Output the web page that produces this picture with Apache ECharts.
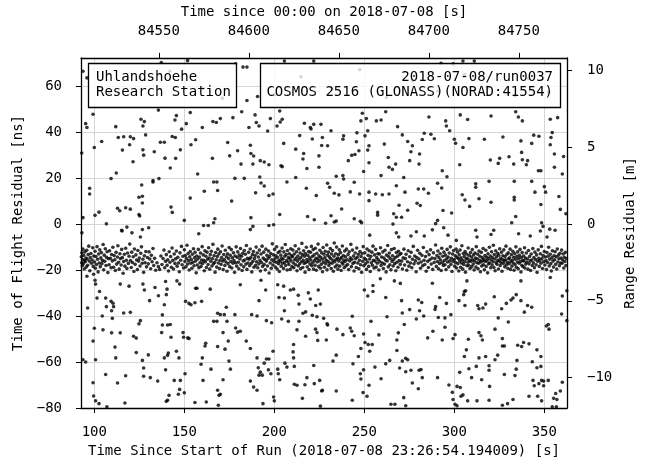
<!DOCTYPE html>
<html>
<head>
<meta charset="utf-8">
<script src="https://cdn.jsdelivr.net/npm/echarts@6/dist/echarts.min.js"></script>
<style>
  html, body { margin: 0; padding: 0; background: #fff; }
  #chart { width: 646px; height: 464px; }
</style>
</head>
<body>
<div id="chart"></div>
<script>
// axis extents
const X_MIN = 92.6, X_MAX = 362.6;
const Y_MIN = -80, Y_MAX = 72.3;
const T0 = 84414.194009;            // 23:26:54.194009 in seconds since 00:00
const NS_TO_M = 0.299792458 / 2;    // two-way time of flight -> range

const X_TICKS = [100, 150, 200, 250, 300, 350];
const TOP_TICKS = [84550, 84600, 84650, 84700, 84750];
const Y_TICKS = [-80, -60, -40, -20, 0, 20, 40, 60];
const M_TICKS = [-10, -5, 0, 5, 10];

// noise above the return band [s, ns]
const noiseUpper = [
[93.7,66.5],[95.9,63.6],[137.2,70.3],[151.8,71.1],[178.5,69.7],[182.6,68.3],[184.8,68.3],[205.6,70.9],[221.9,70.9],[184.8,53.8],[190.7,55.5],[99.3,47.8],[125.9,45.6],[127.8,44.6],[95.2,43.7],[95.9,42.0],[111.9,42.4],[127.0,42.7],[135.6,49.6],[145.6,47.2],[144.8,45.3],[148.5,41.3],[151.1,43.7],[153.3,48.5],[160.0,42.0],[165.9,44.6],[167.8,44.2],[170.0,45.9],[177.0,46.3],[181.9,48.9],[189.3,47.5],[190.0,44.2],[191.5,42.7],[185.9,42.0],[197.8,45.9],[196.3,40.5],[201.5,42.7],[203.3,44.4],[204.4,45.6],[203.0,49.2],[216.7,43.9],[220.0,42.0],[220.4,41.4],[221.9,43.4],[225.9,43.4],
[113.3,37.7],[116.3,38.0],[120.0,38.0],[121.8,37.2],[128.5,38.8],[143.3,38.1],[145.0,37.7],[136.7,35.6],[138.9,35.6],[104.1,35.9],[100.0,33.3],[119.6,34.5],[115.6,32.2],[127.0,32.3],[127.4,30.0],[133.3,31.5],[147.8,32.3],[139.3,28.7],[145.2,28.6],[121.5,27.1],[142.2,24.4],[93.0,30.9],[153.7,34.5],[156.3,36.7],[174.1,35.5],[179.6,31.9],[175.2,29.7],[186.7,34.3],[187.0,30.7],[188.5,29.6],[188.1,26.1],[192.2,27.6],[194.4,27.0],[197.0,25.8],[181.5,26.1],[165.6,28.6],[203.7,25.4],[204.4,25.0],[205.2,35.1],[214.1,38.5],[211.9,32.6],[216.3,30.7],[215.9,28.3],[218.1,24.2],[221.1,37.0],[224.8,29.7],[226.3,34.2],[224.8,24.7],[226.7,37.7],
[112.2,22.2],[109.3,19.8],[157.4,21.8],[132.6,18.9],[132.6,18.3],[135.9,19.8],[126.3,17.0],[166.3,18.3],[168.1,18.3],[178.1,19.9],[183.3,19.9],[191.9,20.5],[192.6,17.9],[194.4,16.6],[207.0,18.3],[211.9,20.3],[97.4,15.6],[97.4,13.1],[161.1,14.3],[168.5,14.6],[189.6,13.6],[197.0,12.4],[199.3,13.1],[217.8,15.6],[223.3,12.4],[126.7,12.1],[124.8,11.7],[126.7,9.2],[153.3,11.3],[176.3,10.0],[112.9,6.9],[114.1,5.8],[117.4,7.1],[120.0,6.5],[142.6,7.4],[143.3,5.1],[124.8,4.2],[125.2,3.5],[100.4,3.8],[102.6,5.2],[93.7,2.8],[150.0,1.6],[160.7,-0.6],[163.3,-0.6],[166.3,0.6],[167.0,2.3],[187.0,2.8],[188.1,-1.0],[197.0,-0.6],[199.6,-0.3],[203.0,4.2],[218.5,3.3],[222.2,1.9],[115.2,-2.7],[126.7,-2.4],[186.7,-2.4],
[292.6,70.0],[299.3,69.7],[304.8,70.9],[311.1,70.9],[248.9,48.2],[248.1,44.9],[251.1,45.9],[256.7,44.9],[259.3,45.3],[261.9,48.9],[268.5,42.4],[285.9,46.6],[295.2,44.9],[295.6,42.7],[297.4,40.6],[303.3,47.5],[307.4,45.5],[320.4,47.0],[334.1,48.9],[335.6,46.6],[337.8,44.9],[353.3,45.6],[357.4,46.3],[231.5,40.6],[229.6,34.1],[238.5,38.4],[238.1,36.9],[245.9,39.7],[245.6,35.8],[250.4,38.4],[251.9,40.6],[252.6,34.1],[251.9,32.2],[261.1,34.8],[271.1,38.8],[274.1,35.9],[276.7,34.1],[275.9,31.5],[280.7,30.5],[283.3,39.5],[287.0,39.1],[288.9,37.1],[282.2,36.8],[300.0,36.9],[300.7,35.2],[304.8,33.3],[308.1,37.2],[316.7,36.9],[327.0,37.9],[337.0,36.2],[343.0,35.1],[344.1,38.7],[347.0,38.2],[353.7,37.7],[354.4,39.8],[353.3,34.5],
[244.8,30.3],[243.0,29.9],[247.0,31.9],[241.1,27.6],[252.6,26.7],[249.6,22.9],[263.3,29.0],[263.7,24.7],[265.6,23.8],[267.4,26.1],[275.2,27.6],[280.4,26.1],[293.3,23.2],[303.0,25.8],[320.0,27.9],[324.4,26.4],[325.2,28.6],[330.4,29.3],[333.0,26.1],[337.4,31.2],[337.8,28.0],[340.0,25.8],[340.7,27.6],[346.7,23.2],[348.1,23.2],[355.6,30.5],[360.7,29.4],[355.6,24.7],[360.0,21.8],[234.4,20.8],[238.1,21.1],[238.5,19.6],[244.4,18.2],[229.6,17.8],[230.7,16.0],[233.3,13.4],[235.9,12.7],[242.2,14.0],[247.4,13.1],[252.6,13.9],[252.6,10.2],[256.3,13.1],[260.0,12.8],[263.7,13.1],[259.3,21.1],[267.8,16.7],[272.6,13.9],[271.9,20.3],[280.0,15.3],[283.0,15.3],[285.6,13.4],[290.7,17.8],[293.0,15.7],[295.9,20.6],[304.4,12.8],[305.9,10.5],[308.5,7.7],[311.9,17.5],[311.9,16.0],[313.7,11.0],[320.4,9.5],[319.3,18.6],[333.3,11.7],[333.3,10.5],[333.3,18.6],[343.0,18.6],[344.8,13.9],[350.0,16.3],[350.7,13.9],[358.1,12.0],[348.1,8.5],[358.9,6.4],
[269.3,8.2],[274.1,6.0],[257.4,5.1],[257.4,3.9],[266.3,4.5],[267.8,3.0],[270.7,3.0],[279.3,9.1],[281.1,8.1],[293.7,5.9],[298.5,4.8],[237.4,6.6],[231.5,3.6],[244.4,2.3],[247.8,1.2],[248.5,0.6],[228.5,0.4],[233.3,0.9],[234.4,1.3],[290.7,1.6],[289.6,0.2],[287.8,-2.5],[265.9,0.0],[311.9,-2.7],[331.9,0.6],[348.5,0.6],[349.3,-1.0],[353.0,-2.2],[356.0,-2.7],[362.0,4.5],[334.1,3.3],
[93.1,-3.8],[106.7,0.1],[115.4,-3.0],[118.1,-1.3],[120.9,-3.8],[125.6,-5.6],[158.0,-4.2],[130.2,-1.6],[253.0,-4.8],[267.8,-3.8],[269.1,-5.6],[275.9,-5.2],[278.9,-3.3],[283.3,-5.2],[294.1,-1.6],[296.5,-4.8],[301.1,-7.1],[312.6,-5.6],[320.4,-4.5],[321.9,-2.7],[335.7,-4.2],[342.2,-5.2],[347.8,-3.0],[351.5,-5.6],
[108.5,57.2],[125.3,63.8],[142.0,66.5],[160.4,59.0],[171.2,54.8],[200.5,56.3],[214.8,64.1],[232.0,58.7],[247.5,67.2],[262.3,55.1],[276.9,62.4],[291.0,57.8],[305.6,65.0],[318.4,59.6],[333.7,55.9],[341.2,63.3],[352.5,57.4]
];

// noise below the return band [s, ns]
const noiseLower = [
[95.9,-22.7],[99.6,-21.8],[100.4,-24.4],[100.7,-26.1],[102.9,-29.3],[101.5,-32.2],[106.3,-32.2],[106.7,-35.9],[109.3,-33.6],[110.4,-34.4],[109.6,-37.7],[110.7,-35.9],[96.3,-36.5],[104.4,-40.0],[110.0,-41.0],[116.3,-38.7],[120.0,-38.4],[114.4,-26.1],[119.3,-27.0],[127.0,-26.1],[127.8,-28.7],[133.7,-27.6],[130.7,-33.3],[135.6,-31.2],[139.6,-25.0],[140.4,-28.3],[140.0,-30.7],[138.9,-35.1],[145.9,-24.7],[147.4,-26.1],[137.8,-39.5],[125.6,-42.0],[124.8,-43.4],[100.0,-45.3],[104.8,-46.0],[109.6,-47.3],[114.4,-47.3],[137.8,-43.9],[137.4,-47.2],[140.7,-43.9],[142.2,-43.7],[142.6,-49.2],[121.8,-48.8],[123.3,-49.6],[99.3,-50.9],[111.5,-53.5],[123.3,-55.9],[111.9,-58.2],[130.0,-56.9],[141.1,-56.1],[140.7,-57.1],[145.6,-55.3],[138.9,-58.2],[147.0,-58.2],[126.7,-59.3],[93.7,-59.0],[95.2,-60.0],[100.7,-59.0],[149.3,-47.2],[149.6,-49.2],[151.9,-49.5],[152.6,-49.8],[150.7,-33.6],[152.6,-34.5],[153.7,-35.1],[155.9,-34.2],[156.3,-27.9],[157.0,-27.9],[159.6,-33.6],[164.4,-28.3],
[181.1,-26.4],[192.6,-24.4],[195.2,-28.7],[191.5,-33.3],[173.3,-36.2],[168.5,-38.8],[170.0,-39.4],[172.2,-39.4],[166.3,-42.3],[168.1,-42.3],[173.7,-42.3],[178.1,-39.4],[187.4,-39.4],[190.4,-40.0],[195.6,-42.0],[198.5,-42.9],[171.5,-47.2],[178.5,-45.2],[179.6,-47.0],[181.1,-46.6],[174.4,-50.9],[161.9,-51.8],[161.5,-53.0],[168.5,-53.3],[172.6,-54.4],[184.4,-50.9],[186.7,-54.1],[199.3,-55.3],[160.0,-58.2],[159.3,-61.0],[174.8,-59.6],[175.6,-63.1],[164.8,-63.1],[190.4,-58.2],[195.6,-58.7],[197.0,-58.7],[194.4,-60.5],[191.1,-62.5],[192.2,-64.4],[191.5,-65.7],[193.3,-65.7],[196.7,-63.4],[198.1,-65.1],[201.9,-63.1],[202.2,-65.1],[203.0,-67.7],[186.7,-68.3],[188.5,-70.9],[190.4,-72.3],[171.5,-67.7],[160.4,-68.0],[150.4,-65.1],[127.4,-62.6],[127.4,-66.2],[131.1,-66.8],[135.2,-68.3],[139.6,-63.4],[144.4,-68.0],[147.8,-68.0],[147.4,-71.9],[146.7,-74.0],[150.0,-73.4],[117.4,-66.0],[112.9,-69.1],[106.3,-65.4],[99.3,-69.0],[99.6,-74.8],[100.7,-76.9],[102.6,-78.1],[107.0,-79.5],[141.5,-74.5],[140.7,-76.6],[140.0,-77.1],[117.0,-77.8],[155.9,-77.6],[162.2,-77.4],[168.5,-72.3],[169.3,-74.5],[170.0,-74.0],[168.9,-78.8],[193.7,-78.1],[199.6,-75.2],[200.0,-76.9],
[201.9,-26.4],[205.2,-27.0],[202.6,-31.9],[205.6,-32.2],[208.9,-28.7],[210.7,-28.3],[213.3,-31.0],[218.9,-29.9],[220.0,-32.6],[224.4,-28.7],[213.7,-34.8],[223.0,-35.4],[225.6,-34.8],[205.6,-37.7],[215.9,-38.8],[217.4,-38.2],[221.1,-39.7],[223.7,-40.3],[204.1,-41.3],[207.8,-42.3],[213.7,-42.3],[222.9,-45.7],[223.7,-47.2],[224.1,-50.6],[212.6,-46.0],[217.4,-48.8],[210.7,-52.4],[210.4,-55.6],[210.7,-58.2],[205.9,-60.5],[207.0,-62.2],[211.1,-61.9],[221.9,-61.5],[218.1,-66.8],[225.2,-68.0],[211.1,-69.7],[212.6,-70.1],[217.0,-69.9],[222.2,-69.4],[226.3,-72.6],[215.6,-75.8],[225.6,-79.2],
[250.0,-28.7],[251.9,-31.3],[254.8,-26.7],[254.8,-29.3],[258.9,-23.8],[266.7,-24.7],[270.0,-25.8],[261.9,-31.9],[270.7,-33.3],[271.1,-38.7],[275.2,-37.2],[280.0,-33.0],[281.9,-34.1],[280.7,-37.7],[278.9,-41.3],[287.8,-25.7],[291.9,-31.9],[289.6,-35.9],[289.3,-37.1],[295.6,-34.5],[283.0,-40.0],[291.1,-40.6],[294.8,-40.8],[298.1,-39.4],[302.6,-33.3],[305.2,-30.7],[306.3,-29.0],[305.6,-29.3],[305.9,-35.4],[313.0,-35.4],[313.7,-36.8],[315.9,-36.5],[317.4,-34.8],[322.2,-31.6],[326.3,-36.8],[328.9,-34.5],[331.5,-33.0],[332.6,-32.2],[334.4,-30.7],[337.0,-24.7],[337.0,-33.3],[340.7,-35.4],[343.0,-36.2],[338.9,-38.3],[324.4,-40.8],[330.0,-42.6],[360.0,-31.3],[362.5,-29.0],[359.6,-39.1],[362.5,-42.0],[352.2,-43.7],[352.6,-45.7],[351.1,-44.3],[227.4,-41.0],[229.6,-43.9],[229.3,-43.4],[243.3,-40.1],[253.7,-42.3],[262.6,-40.3],[234.8,-45.7],[238.1,-48.1],[242.2,-45.2],[243.0,-46.6],[244.4,-48.6],[228.9,-50.4],[249.6,-47.8],[258.1,-48.2],[268.9,-47.3],[268.1,-50.4],[272.2,-43.7],[288.1,-46.6],[285.2,-49.5],[293.3,-50.4],[294.8,-44.9],[299.3,-49.8],[300.4,-48.1],[313.7,-47.2],[314.8,-48.6],[315.6,-50.4],[307.8,-50.1],[322.6,-45.7],[326.7,-49.8],
[250.4,-51.5],[252.2,-52.4],[254.4,-52.4],[248.1,-54.1],[253.0,-55.3],[268.1,-55.0],[273.0,-58.4],[274.1,-59.0],[271.1,-59.6],[234.4,-57.0],[232.6,-59.6],[246.7,-57.6],[243.7,-60.8],[264.1,-59.3],[261.9,-60.8],[249.6,-63.4],[247.8,-65.1],[248.1,-67.4],[255.9,-62.2],[269.6,-62.6],[273.0,-64.2],[275.9,-63.6],[280.4,-63.6],[281.5,-63.3],[282.2,-66.8],[259.3,-67.3],[276.7,-69.1],[280.0,-71.6],[290.7,-66.8],[252.6,-70.1],[234.4,-72.6],[249.3,-73.3],[251.5,-74.9],[303.0,-64.5],[308.1,-62.9],[312.2,-61.9],[319.3,-61.6],[319.3,-63.6],[315.2,-67.7],[309.6,-66.8],[305.6,-57.6],[306.7,-54.7],[313.7,-58.2],[317.4,-57.6],[322.6,-59.0],[324.1,-57.0],[326.7,-53.0],[327.8,-53.0],[335.2,-52.7],[337.4,-53.3],[338.5,-51.5],[341.5,-52.1],[345.9,-54.7],[348.1,-57.6],[334.8,-59.3],[343.3,-59.9],[345.9,-62.5],[348.1,-61.9],[334.4,-63.1],[333.7,-65.9],[327.8,-65.4],[319.6,-70.6],[297.0,-70.0],[298.9,-73.2],[301.5,-70.6],[303.3,-71.1],[303.7,-74.9],[304.8,-74.3],[299.3,-76.3],[300.4,-78.4],[301.5,-79.0],[307.4,-76.9],[312.6,-76.9],[319.3,-76.6],[326.7,-78.8],[329.6,-78.1],[332.6,-76.3],[341.5,-74.9],[346.3,-74.9],[348.5,-76.9],[343.7,-68.0],[344.4,-70.3],[347.0,-69.4],[348.5,-68.0],[349.6,-68.3],[349.6,-70.3],[352.2,-68.0],[360.0,-68.8],[358.9,-72.6],[356.3,-73.7],[355.2,-75.8],[357.0,-76.3],[354.4,-79.5],[356.7,-79.5],[243.3,-76.6],[264.8,-78.4],[267.0,-78.4],[273.0,-79.0],[271.9,-75.5],[226.7,-72.3],[307.0,-24.7],[353.3,-23.2]
];

// satellite returns [s, ns]
const band = [
[92.8,-14.2],[93.0,-16.8],[93.1,-12.5],[93.3,-18.1],[93.5,-15.4],[93.7,-10.9],[93.9,-17.3],[94.1,-13.6],[94.4,-19.5],[94.6,-15.9],[94.8,-12.1],[95.0,-16.4],[95.3,-14.8],[95.5,-18.7],[95.8,-11.4],[96.0,-15.2],[96.3,-17.9],[96.6,-13.3],[96.9,-9.6],[97.2,-16.1],[97.5,-20.3],[97.8,-14.5],[98.1,-12.8],[98.4,-17.0],[98.8,-15.6],[99.1,-10.3],[99.4,-18.4],[99.7,-13.9],
[100.1,-16.5],[100.4,-11.8],[100.6,-19.2],[100.9,-14.1],[101.2,-17.6],[101.5,-9.8],[101.8,-15.3],[102.1,-20.8],[102.4,-13.0],[102.7,-16.9],[103.0,-11.2],[103.3,-18.5],[103.6,-14.7],[103.9,-12.4],[104.2,-17.2],[104.5,-15.8],[104.9,-8.9],[105.2,-19.9],[105.5,-13.5],[105.8,-16.2],[106.1,-10.7],[106.5,-18.0],[106.8,-14.4],[107.1,-12.0],[107.5,-21.1],[107.8,-15.1],[108.2,-17.7],[108.5,-11.6],[108.9,-14.9],[109.3,-19.0],[109.6,-13.2],
[110.0,-16.0],[110.3,-10.1],[110.7,-18.8],[111.0,-13.7],[111.4,-15.5],[111.7,-20.2],[112.1,-12.3],[112.4,-17.4],[112.8,-14.3],[113.1,-9.4],[113.5,-16.6],[113.8,-19.6],[114.2,-12.9],[114.5,-15.0],[114.9,-17.8],[115.2,-11.0],[115.6,-14.6],[116.0,-21.4],[116.3,-16.3],[116.7,-13.1],[117.0,-18.3],[117.4,-10.5],[117.8,-15.7],[118.1,-19.3],[118.5,-12.6],[118.9,-17.1],[119.3,-14.0],[119.7,-8.7],
[120.1,-15.9],[120.5,-18.9],[120.8,-12.2],[121.2,-16.7],[121.6,-14.2],[122.0,-20.6],[122.3,-10.8],[122.7,-17.5],[123.1,-13.4],[123.5,-15.6],[123.9,-19.8],[124.2,-11.5],[124.6,-16.1],[125.0,-14.8],[125.4,-18.2],[125.8,-12.7],[126.2,-9.9],[126.6,-17.0],[127.0,-15.3],[127.4,-21.0],[127.8,-13.8],[128.2,-16.8],[128.6,-11.9],[129.0,-18.6],[129.5,-14.5],
[130.0,-17.3],[130.4,-12.1],[130.8,-15.2],[131.3,-19.4],[131.7,-13.6],[132.1,-16.4],[132.6,-10.6],[133.0,-18.0],[133.5,-14.9],[134.1,-20.1],[134.8,-16.8],[135.6,-18.5],[136.3,-19.7],[137.0,-13.9],[137.6,-17.6],[138.2,-15.0],[138.7,-11.3],[139.1,-19.0],[139.6,-16.2],
[140.0,-13.3],[140.4,-17.9],[140.8,-15.5],[141.2,-20.4],[141.6,-12.0],[142.0,-16.6],[142.4,-14.1],[142.8,-18.8],[143.2,-10.4],[143.6,-15.8],[144.0,-19.5],[144.4,-13.0],[144.8,-17.1],[145.2,-15.1],[145.6,-11.7],[146.0,-18.3],[146.4,-14.4],[146.8,-16.9],[147.2,-20.7],[147.6,-12.5],[148.0,-15.7],[148.4,-9.7],[148.8,-17.7],[149.2,-14.0],[149.6,-19.1],
[150.0,-11.2],[150.3,-16.3],[150.6,-13.7],[150.9,-18.6],[151.2,-15.0],[151.5,-9.2],[151.8,-17.4],[152.1,-12.8],[152.4,-15.9],[152.7,-20.0],[153.0,-14.2],[153.3,-11.9],[153.6,-17.0],[153.9,-15.4],[154.2,-19.2],[154.5,-13.1],[154.8,-16.6],[155.1,-10.7],[155.4,-18.1],[155.7,-14.6],[156.0,-12.3],[156.3,-16.0],[156.6,-21.2],[156.9,-13.9],[157.2,-17.8],[157.5,-15.2],[157.8,-11.0],[158.1,-19.0],[158.4,-14.3],[158.7,-16.8],[159.0,-12.6],[159.3,-18.4],[159.6,-15.6],[159.9,-9.8],
[160.2,-17.1],[160.5,-13.4],[160.8,-15.8],[161.1,-20.3],[161.4,-11.6],[161.7,-16.4],[162.0,-14.0],[162.3,-18.9],[162.6,-12.2],[162.9,-15.3],[163.2,-17.6],[163.5,-10.3],[163.8,-14.8],[164.1,-19.6],[164.4,-13.3],[164.7,-16.2],[165.0,-11.8],[165.3,-18.2],[165.6,-15.1],[165.9,-8.8],[166.2,-17.3],[166.5,-13.8],[166.8,-16.7],[167.1,-20.9],[167.4,-12.4],[167.7,-15.5],[168.0,-18.7],[168.3,-14.1],[168.6,-10.9],[168.9,-16.9],[169.2,-13.0],[169.5,-19.3],[169.8,-15.7],
[170.1,-12.0],[170.4,-17.5],[170.7,-14.5],[171.0,-9.5],[171.3,-16.1],[171.6,-19.8],[171.9,-13.2],[172.2,-15.4],[172.5,-18.0],[172.8,-11.4],[173.1,-16.5],[173.4,-14.2],[173.7,-20.5],[174.0,-12.9],[174.3,-17.2],[174.6,-15.0],[174.9,-10.2],[175.2,-18.5],[175.5,-13.6],[175.8,-16.3],[176.1,-11.1],[176.4,-19.1],[176.7,-14.7],[177.0,-17.0],[177.3,-12.5],[177.6,-15.9],[177.9,-21.0],[178.2,-13.9],[178.5,-16.8],[178.8,-9.9],[179.1,-18.3],[179.4,-14.4],[179.7,-12.1],
[180.0,-16.6],[180.3,-19.4],[180.6,-13.5],[180.9,-15.2],[181.2,-10.6],[181.5,-17.7],[181.8,-14.0],[182.1,-20.2],[182.4,-12.7],[182.7,-16.0],[183.0,-18.6],[183.3,-11.5],[183.6,-15.6],[183.9,-13.1],[184.2,-17.4],[184.5,-9.3],[184.8,-19.7],[185.1,-14.9],[185.4,-16.9],[185.7,-12.3],[186.0,-15.3],[186.3,-18.1],[186.6,-10.8],[186.9,-14.6],[187.2,-17.1],[187.5,-20.8],[187.8,-13.3],[188.1,-16.2],[188.4,-11.9],[188.7,-18.8],[189.0,-15.0],[189.3,-13.7],[189.6,-17.9],[189.9,-10.0],
[190.2,-16.4],[190.5,-12.6],[190.8,-19.0],[191.1,-14.3],[191.4,-17.3],[191.7,-11.3],[192.0,-15.8],[192.3,-20.4],[192.6,-13.0],[192.9,-16.7],[193.2,-9.6],[193.5,-18.4],[193.8,-14.8],[194.1,-12.2],[194.4,-17.6],[194.7,-15.4],[195.0,-19.9],[195.3,-10.9],[195.6,-16.1],[195.9,-13.6],[196.2,-18.2],[196.5,-15.0],[196.8,-11.7],[197.1,-21.3],[197.4,-14.1],[197.7,-16.9],[198.0,-12.8],[198.3,-19.2],[198.6,-15.5],[198.9,-8.6],[199.2,-17.8],[199.5,-13.4],[199.8,-16.3],
[200.1,-11.0],[200.3,-15.1],[200.6,-18.7],[200.8,-13.8],[201.1,-16.6],[201.3,-9.9],[201.6,-19.5],[201.8,-14.4],[202.1,-12.4],[202.3,-17.2],[202.6,-15.7],[202.8,-20.6],[203.1,-11.8],[203.3,-16.2],[203.6,-13.5],[203.8,-18.3],[204.1,-14.9],[204.3,-10.4],[204.6,-17.0],[204.8,-15.3],[205.1,-19.3],[205.3,-12.1],[205.6,-16.8],[205.8,-14.0],[206.1,-8.9],[206.3,-18.0],[206.6,-13.2],[206.8,-15.9],[207.1,-20.0],[207.3,-11.5],[207.6,-16.5],[207.8,-14.6],[208.1,-17.6],[208.3,-12.9],[208.6,-15.0],[208.8,-19.7],[209.1,-10.7],[209.3,-16.0],[209.6,-13.7],[209.8,-18.5],
[210.1,-14.2],[210.3,-11.3],[210.6,-16.9],[210.8,-19.0],[211.1,-13.0],[211.3,-15.5],[211.6,-9.4],[211.8,-17.7],[212.1,-14.8],[212.3,-12.0],[212.6,-20.3],[212.8,-16.1],[213.1,-13.9],[213.3,-18.2],[213.6,-10.8],[213.8,-15.2],[214.1,-17.3],[214.3,-12.6],[214.6,-19.4],[214.8,-14.5],[215.1,-16.4],[215.3,-8.4],[215.6,-13.3],[215.8,-18.9],[216.1,-15.8],[216.3,-11.6],[216.6,-17.1],[216.8,-14.0],[217.1,-20.9],[217.3,-12.8],[217.6,-16.7],[217.8,-10.1],[218.1,-15.4],[218.3,-18.6],[218.6,-13.6],[218.8,-16.3],[219.1,-11.9],[219.3,-19.8],[219.6,-14.7],[219.8,-17.4],
[220.1,-12.3],[220.3,-15.6],[220.6,-9.7],[220.8,-18.1],[221.1,-14.1],[221.3,-16.8],[221.6,-11.1],[221.8,-19.6],[222.1,-13.4],[222.3,-15.9],[222.6,-17.9],[222.8,-10.5],[223.1,-14.9],[223.3,-20.1],[223.6,-12.7],[223.8,-16.5],[224.1,-15.1],[224.3,-8.7],[224.6,-18.4],[224.8,-13.8],[225.1,-16.0],[225.3,-11.4],[225.6,-19.2],[225.8,-14.4],[226.1,-17.5],[226.3,-12.5],[226.6,-15.3],[226.8,-20.7],[227.1,-10.2],[227.3,-16.6],[227.6,-13.1],[227.8,-18.8],[228.1,-14.6],[228.3,-11.8],[228.6,-17.2],[228.8,-15.7],[229.1,-9.1],[229.3,-19.9],[229.6,-13.5],[229.8,-16.2],
[230.1,-12.2],[230.3,-18.0],[230.6,-14.3],[230.8,-16.9],[231.1,-10.6],[231.3,-15.0],[231.6,-19.3],[231.8,-13.0],[232.1,-17.0],[232.3,-11.5],[232.6,-15.8],[232.8,-20.5],[233.1,-14.0],[233.3,-8.2],[233.6,-16.4],[233.8,-18.6],[234.1,-12.9],[234.3,-15.4],[234.6,-10.0],[234.8,-17.8],[235.1,-14.8],[235.3,-19.6],[235.6,-13.3],[235.8,-16.1],[236.1,-11.2],[236.3,-18.3],[236.6,-15.2],[236.8,-12.4],[237.1,-20.2],[237.3,-14.5],[237.6,-16.7],[237.8,-9.5],[238.1,-17.4],[238.3,-13.7],[238.6,-15.6],[238.8,-19.0],[239.1,-11.7],[239.3,-16.3],[239.6,-14.2],[239.8,-18.2],
[240.1,-10.9],[240.4,-15.5],[240.7,-17.6],[241.0,-13.2],[241.3,-19.8],[241.6,-12.0],[241.9,-16.0],[242.2,-14.7],[242.5,-8.8],[242.8,-18.5],[243.1,-15.3],[243.4,-11.3],[243.7,-17.1],[244.0,-13.9],[244.3,-20.4],[244.6,-16.6],[244.9,-12.6],[245.2,-15.0],[245.5,-18.9],[245.8,-10.4],[246.1,-14.4],[246.4,-16.9],[246.7,-13.1],[247.0,-19.4],[247.3,-15.7],[247.6,-11.9],[247.9,-17.7],[248.2,-14.1],[248.5,-21.0],[248.8,-12.8],[249.1,-16.2],[249.4,-9.8],[249.7,-18.1],
[250.0,-14.9],[250.3,-12.5],[250.6,-17.3],[250.9,-15.4],[251.2,-19.7],[251.5,-10.8],[251.8,-16.5],[252.1,-13.6],[252.4,-18.4],[252.7,-11.6],[253.0,-15.2],[253.3,-20.6],[253.6,-14.0],[253.9,-16.8],[254.2,-12.2],[254.5,-17.9],[254.8,-9.6],[255.1,-15.8],[255.4,-19.1],[255.7,-13.4],[256.0,-16.1],[256.3,-11.0],[256.6,-18.7],[256.9,-14.6],[257.2,-17.0],[257.5,-12.9],[257.8,-15.5],[258.1,-20.0],[258.4,-13.0],[258.7,-16.4],[259.0,-10.3],[259.3,-18.0],[259.6,-14.3],
[260.0,-16.9],[260.3,-12.1],[260.6,-19.3],[260.9,-14.8],[261.2,-17.4],[261.5,-11.4],[261.8,-15.6],[262.1,-20.8],[262.4,-13.5],[262.7,-16.0],[263.0,-9.3],[263.3,-18.6],[263.6,-14.2],[263.9,-12.6],[264.2,-17.7],[264.5,-15.1],[264.8,-19.9],[265.1,-11.1],[265.4,-16.3],[265.7,-13.8],[266.0,-18.2],[266.3,-15.4],[266.6,-10.6],[266.9,-17.2],[267.2,-14.5],[267.5,-20.3],[267.8,-12.4],[268.1,-16.6],[268.4,-14.0],[268.7,-18.8],[269.0,-11.8],[269.3,-15.9],[269.6,-13.2],
[270.0,-17.5],[270.4,-12.8],[270.8,-16.1],[271.2,-19.5],[271.6,-14.7],[272.0,-10.9],[272.4,-17.8],[272.8,-15.0],[273.2,-13.1],[273.6,-20.1],[274.0,-16.4],[274.4,-11.6],[274.8,-18.3],[275.2,-14.2],[275.6,-16.9],[276.0,-12.3],[276.4,-19.0],[276.8,-15.3],[277.2,-9.7],[277.6,-17.3],[278.0,-13.9],[278.4,-16.0],[278.8,-20.7],[279.2,-14.5],[279.6,-11.4],
[280.0,-17.0],[280.4,-15.2],[280.8,-12.7],[281.2,-19.2],[281.6,-16.5],[282.0,-13.6],[282.4,-18.1],[282.8,-10.2],[283.2,-15.7],[283.6,-17.6],[284.0,-14.1],[284.4,-20.5],[284.8,-12.0],[285.2,-16.2],[285.6,-18.9],[286.0,-13.3],[286.4,-15.5],[286.8,-11.2],[287.2,-17.4],[287.6,-14.8],[288.0,-19.7],[288.4,-12.5],[288.8,-16.7],[289.2,-15.0],[289.6,-9.1],
[290.0,-18.4],[290.3,-13.7],[290.6,-16.3],[290.9,-11.7],[291.2,-19.4],[291.5,-14.6],[291.8,-17.1],[292.1,-12.9],[292.4,-15.6],[292.7,-20.2],[293.0,-10.5],[293.3,-16.8],[293.6,-14.0],[293.9,-18.0],[294.2,-12.2],[294.5,-15.9],[294.8,-17.7],[295.1,-13.5],[295.4,-19.8],[295.7,-15.1],[296.0,-11.0],[296.3,-16.5],[296.6,-14.3],[296.9,-18.6],[297.2,-12.6],[297.5,-16.0],[297.8,-9.9],[298.1,-17.5],[298.4,-14.9],[298.7,-20.6],[299.0,-13.0],[299.3,-16.2],[299.6,-11.5],
[300.0,-15.4],[300.2,-18.3],[300.5,-13.8],[300.7,-16.7],[301.0,-10.8],[301.2,-19.1],[301.5,-14.4],[301.7,-12.1],[302.0,-17.2],[302.2,-15.0],[302.5,-20.4],[302.7,-13.3],[303.0,-16.0],[303.2,-11.3],[303.5,-18.8],[303.7,-14.7],[304.0,-16.9],[304.2,-9.4],[304.5,-15.6],[304.7,-19.6],[305.0,-12.8],[305.2,-17.6],[305.5,-14.1],[305.7,-16.4],[306.0,-11.9],[306.2,-20.9],[306.5,-15.2],[306.7,-13.0],[307.0,-18.1],[307.2,-14.9],[307.5,-16.6],[307.7,-10.4],[308.0,-17.9],[308.2,-13.6],[308.5,-15.8],[308.7,-19.3],[309.0,-12.4],[309.2,-16.2],[309.5,-14.3],[309.7,-18.5],
[310.0,-11.1],[310.2,-15.5],[310.5,-17.4],[310.7,-13.4],[311.0,-20.0],[311.2,-16.1],[311.5,-12.6],[311.7,-14.8],[312.0,-18.7],[312.2,-9.8],[312.5,-16.8],[312.7,-15.1],[313.0,-13.1],[313.2,-19.4],[313.5,-17.0],[313.7,-11.7],[314.0,-15.7],[314.2,-14.0],[314.5,-20.7],[314.7,-16.5],[315.0,-12.3],[315.2,-18.2],[315.5,-14.6],[315.7,-16.0],[316.0,-10.6],[316.2,-17.7],[316.5,-15.3],[316.7,-19.9],[317.0,-13.7],[317.2,-16.3],[317.5,-11.4],[317.7,-18.4],[318.0,-14.4],[318.2,-15.9],[318.5,-21.2],[318.7,-12.9],[319.0,-17.3],[319.2,-15.0],[319.5,-10.1],[319.7,-16.9],
[320.0,-13.9],[320.2,-19.0],[320.5,-15.6],[320.7,-12.0],[321.0,-17.8],[321.2,-14.5],[321.5,-16.4],[321.7,-9.2],[322.0,-18.9],[322.2,-13.2],[322.5,-15.2],[322.7,-20.3],[323.0,-11.6],[323.2,-16.7],[323.5,-14.2],[323.7,-17.5],[324.0,-12.7],[324.2,-15.8],[324.5,-19.5],[324.7,-13.5],[325.0,-16.1],[325.2,-10.7],[325.5,-18.0],[325.7,-14.9],[326.0,-16.8],[326.2,-12.2],[326.5,-20.5],[326.7,-15.4],[327.0,-13.8],[327.2,-17.1],[327.5,-11.2],[327.7,-16.0],[328.0,-18.6],[328.2,-14.1],[328.5,-15.5],[328.7,-9.6],[329.0,-17.7],[329.2,-13.1],[329.5,-16.6],[329.7,-19.2],
[330.0,-12.5],[330.2,-15.1],[330.5,-17.2],[330.7,-14.7],[331.0,-10.9],[331.2,-19.7],[331.5,-16.2],[331.7,-13.3],[332.0,-18.3],[332.2,-15.7],[332.5,-11.8],[332.7,-16.9],[333.0,-14.4],[333.2,-20.1],[333.5,-12.8],[333.7,-17.6],[334.0,-15.3],[334.2,-9.9],[334.5,-18.8],[334.7,-14.0],[335.0,-16.5],[335.2,-12.1],[335.5,-19.4],[335.7,-15.0],[336.0,-17.0],[336.2,-13.6],[336.5,-11.0],[336.7,-16.3],[337.0,-20.8],[337.2,-14.6],[337.5,-17.9],[337.7,-12.4],[338.0,-15.9],[338.2,-18.5],[338.5,-13.9],[338.7,-16.0],[339.0,-10.3],[339.2,-19.1],[339.5,-14.8],[339.7,-17.4],
[340.0,-12.6],[340.3,-16.6],[340.6,-15.2],[340.9,-19.6],[341.2,-11.5],[341.5,-17.3],[341.8,-14.1],[342.1,-16.0],[342.4,-20.2],[342.7,-13.0],[343.0,-15.6],[343.3,-18.0],[343.6,-10.6],[343.9,-16.8],[344.2,-14.5],[344.5,-19.0],[344.8,-12.2],[345.1,-15.4],[345.4,-17.7],[345.7,-13.4],[346.0,-21.0],[346.3,-16.2],[346.6,-11.2],[346.9,-14.9],[347.2,-18.4],[347.5,-15.8],[347.8,-12.9],[348.1,-17.0],[348.4,-9.7],[348.7,-15.0],[349.0,-19.3],[349.3,-13.7],[349.6,-16.4],
[350.0,-11.9],[350.3,-17.8],[350.6,-14.3],[350.9,-15.9],[351.2,-19.8],[351.5,-12.4],[351.8,-16.7],[352.1,-14.0],[352.4,-10.1],[352.7,-18.2],[353.0,-15.3],[353.3,-13.1],[353.6,-17.2],[353.9,-20.4],[354.2,-14.6],[354.5,-11.6],[354.8,-16.1],[355.1,-18.7],[355.4,-13.8],[355.7,-15.5],[356.0,-12.0],[356.3,-17.5],[356.6,-14.2],[356.9,-19.5],[357.2,-10.8],[357.5,-16.5],[357.8,-13.5],[358.1,-15.1],[358.4,-18.1],[358.7,-12.7],[359.0,-16.9],[359.3,-14.8],[359.6,-11.3],[359.9,-17.0],[360.2,-15.6],[360.5,-13.0],[360.8,-19.1],[361.1,-14.4],[361.4,-16.3],[361.7,-12.3],[362.0,-18.0],[362.3,-15.0]
];

const STATION = 'Uhlandshoehe\nResearch Station';
const RUN_INFO = '2018-07-08/run0037\nCOSMOS 2516 (GLONASS)(NORAD:41554)';

const FONT = 'DejaVu Sans Mono';
const txt = { fontFamily: FONT, fontSize: 14, color: '#000' };
const minus = v => String(v).replace('-', '\u2212');
const spine = { show: true, onZero: false, lineStyle: { color: '#000', width: 1.3 } };
const tick = { show: true, inside: false, length: 5, lineStyle: { color: '#000', width: 1 } };
const grid = { show: true, lineStyle: { color: '#d6d6d6', width: 1 } };

const chart = echarts.init(document.getElementById('chart'));

const dots = data => ({
  type: 'scatter',
  xAxisIndex: 0,
  yAxisIndex: 0,
  data: data,
  symbol: 'circle',
  symbolSize: 3.6,
  itemStyle: { color: '#000' },
  silent: true
});

chart.setOption({
  animation: false,
  backgroundColor: '#fff',
  grid: { left: 81, right: 79, top: 57, bottom: 56 },
  xAxis: [{
    type: 'value', position: 'bottom', min: X_MIN, max: X_MAX,
    axisLine: spine,
    axisTick: Object.assign({}, tick, { customValues: X_TICKS }),
    axisLabel: Object.assign({}, txt, { margin: 17, customValues: X_TICKS, formatter: minus }),
    splitLine: grid,
    name: 'Time Since Start of Run (2018-07-08 23:26:54.194009) [s]',
    nameLocation: 'middle', nameGap: 36, nameTextStyle: txt
  }, {
    type: 'value', position: 'top', min: X_MIN + T0, max: X_MAX + T0,
    axisLine: spine,
    axisTick: Object.assign({}, tick, { customValues: TOP_TICKS }),
    axisLabel: Object.assign({}, txt, { margin: 20, customValues: TOP_TICKS, formatter: v => String(v) }),
    splitLine: { show: false },
    name: 'Time since 00:00 on 2018-07-08 [s]',
    nameLocation: 'middle', nameGap: 38, nameTextStyle: txt
  }],
  yAxis: [{
    type: 'value', position: 'left', min: Y_MIN, max: Y_MAX,
    axisLine: spine,
    axisTick: Object.assign({}, tick, { customValues: Y_TICKS }),
    axisLabel: Object.assign({}, txt, { margin: 19, customValues: Y_TICKS, formatter: minus }),
    splitLine: grid,
    name: 'Time of Flight Residual [ns]',
    nameLocation: 'middle', nameRotate: 90, nameGap: 50, nameTextStyle: txt
  }, {
    type: 'value', position: 'right', min: Y_MIN * NS_TO_M, max: Y_MAX * NS_TO_M,
    axisLine: spine,
    axisTick: Object.assign({}, tick, { customValues: M_TICKS }),
    axisLabel: Object.assign({}, txt, { margin: 20, customValues: M_TICKS, formatter: minus }),
    splitLine: { show: false },
    name: 'Range Residual [m]',
    nameLocation: 'middle', nameRotate: 90, nameGap: 52, nameTextStyle: txt
  }],
  series: [dots(noiseUpper), dots(noiseLower), dots(band)],
  graphic: [
    { type: 'rect', z: 100, shape: { x: 88.5, y: 63.5, width: 148, height: 44 },
      style: { fill: 'rgba(255,255,255,0.8)', stroke: '#000', lineWidth: 1.3 } },
    { type: 'text', z: 101, style: { x: 96, y: 85, text: STATION, font: '14px "DejaVu Sans Mono"',
      fill: '#000', align: 'left', verticalAlign: 'middle', lineHeight: 15.5 } },
    { type: 'rect', z: 100, shape: { x: 260.5, y: 63.5, width: 300, height: 44 },
      style: { fill: 'rgba(255,255,255,0.8)', stroke: '#000', lineWidth: 1.3 } },
    { type: 'text', z: 101, style: { x: 553, y: 85, text: RUN_INFO, font: '14px "DejaVu Sans Mono"',
      fill: '#000', align: 'right', verticalAlign: 'middle', lineHeight: 15.5 } }
  ]
});
</script>
</body>
</html>
